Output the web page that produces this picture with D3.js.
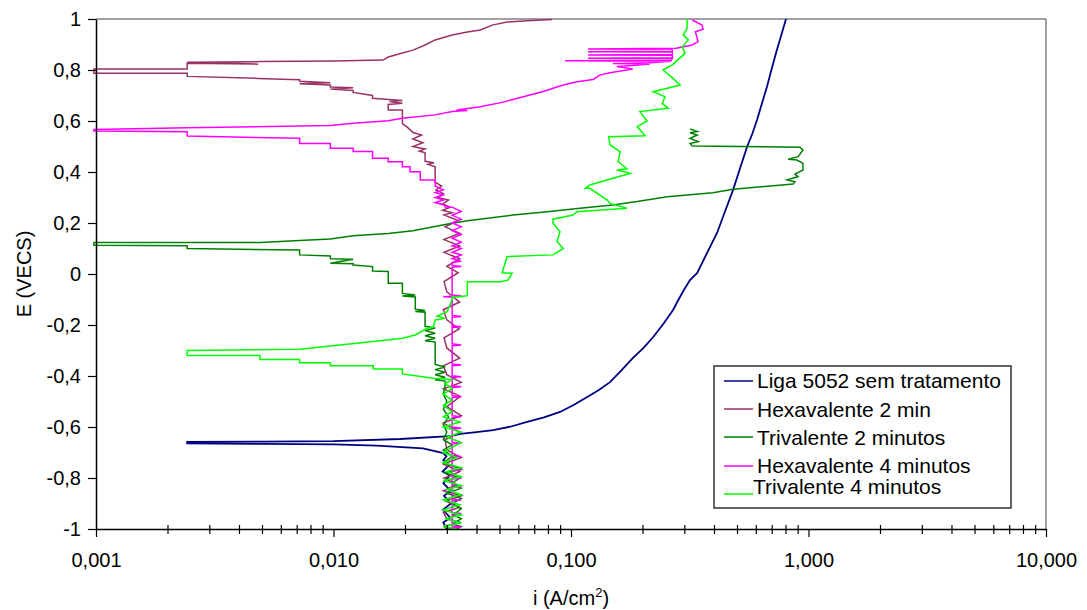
<!DOCTYPE html>
<html>
<head>
<meta charset="utf-8">
<script src="https://cdn.jsdelivr.net/npm/d3@7"></script>
<style>
  body { margin: 0; background: #fff; }
  svg { font-family: "Liberation Sans", Arial, sans-serif; }
</style>
</head>
<body>
<svg id="chart" width="1087" height="610"></svg>
<script>
// Polarization curves, [i (A/cm2), E (VECS)]
const ligaSemTratamento = [
  [0.0300,-1.000],[0.0290,-0.975],[0.0310,-0.955],[0.0289,-0.925],[0.0312,-0.900],[0.0292,-0.870],
  [0.0311,-0.850],[0.0290,-0.820],[0.0309,-0.790],[0.0288,-0.775],[0.0306,-0.750],[0.0290,-0.730],
  [0.0299,-0.715],[0.0290,-0.702],[0.0238,-0.684],[0.0152,-0.673],[0.0100,-0.668],[0.0050,-0.666],
  [0.00242,-0.664],[0.00242,-0.658],[0.0050,-0.657],[0.0100,-0.655],[0.0191,-0.647],[0.0310,-0.636],
  [0.0342,-0.627],[0.0400,-0.620],[0.0470,-0.612],[0.0560,-0.598],[0.0653,-0.580],[0.0770,-0.562],
  [0.0899,-0.541],[0.103,-0.513],[0.117,-0.482],[0.131,-0.455],[0.146,-0.424],[0.163,-0.378],
  [0.182,-0.330],[0.202,-0.290],[0.222,-0.247],[0.245,-0.195],[0.269,-0.141],[0.283,-0.102],
  [0.300,-0.060],[0.317,-0.024],[0.340,0.004],[0.375,0.085],[0.412,0.161],[0.445,0.245],
  [0.481,0.329],[0.515,0.415],[0.551,0.498],[0.580,0.550],[0.607,0.604],[0.637,0.670],
  [0.668,0.733],[0.700,0.805],[0.736,0.878],[0.770,0.940],[0.804,1.000]
];

const hexavalente2min = [
  [0.0315,-1.000],[0.0290,-0.990],[0.0345,-0.975],[0.0300,-0.960],[0.0290,-0.935],[0.0340,-0.915],
  [0.0295,-0.890],[0.0345,-0.870],[0.0290,-0.850],[0.0330,-0.825],[0.0292,-0.800],[0.0340,-0.775],
  [0.0290,-0.745],[0.0345,-0.720],[0.0300,-0.690],[0.0295,-0.650],[0.0340,-0.620],[0.0290,-0.585],
  [0.0345,-0.555],[0.0300,-0.520],[0.0342,-0.480],[0.0290,-0.450],[0.0345,-0.425],[0.0300,-0.395],
  [0.0290,-0.360],[0.0340,-0.330],[0.0300,-0.290],[0.0292,-0.250],[0.0338,-0.215],[0.0300,-0.180],
  [0.0290,-0.140],[0.0340,-0.110],[0.0300,-0.070],[0.0292,-0.030],[0.0335,0.005],[0.0300,0.030],
  [0.0340,0.060],[0.0292,0.085],[0.0340,0.110],[0.0292,0.135],[0.0340,0.160],[0.0295,0.185],
  [0.0335,0.210],[0.0292,0.232],[0.0316,0.240],[0.0288,0.250],[0.0310,0.262],[0.0288,0.275],
  [0.0305,0.290],[0.0275,0.300],[0.0290,0.315],[0.0270,0.330],[0.0285,0.345],[0.0268,0.360],
  [0.0268,0.420],[0.0250,0.430],[0.0265,0.436],[0.0243,0.442],[0.0243,0.475],[0.0230,0.482],
  [0.0243,0.490],[0.0216,0.500],[0.0238,0.515],[0.0216,0.530],[0.0235,0.545],[0.0216,0.555],
  [0.0205,0.575],[0.0195,0.590],[0.0195,0.643],[0.0170,0.643],[0.0170,0.665],[0.0195,0.670],
  [0.0172,0.676],[0.0195,0.680],[0.0146,0.689],[0.0146,0.700],[0.0121,0.712],[0.0121,0.720],
  [0.0097,0.725],[0.0121,0.730],[0.0097,0.733],[0.0097,0.741],[0.0072,0.746],[0.0097,0.750],
  [0.0072,0.756],[0.0072,0.762],[0.0048,0.767],[0.00242,0.775],[0.00242,0.787],[0.00098,0.787],
  [0.00098,0.804],[0.00242,0.804],[0.00242,0.826],[0.00482,0.823],[0.00242,0.830],[0.0050,0.833],
  [0.0100,0.835],[0.0162,0.839],[0.0170,0.851],[0.0195,0.867],[0.0216,0.878],[0.0243,0.898],
  [0.0268,0.918],[0.0316,0.937],[0.0366,0.949],[0.0415,0.957],[0.0466,0.976],[0.0538,0.988],
  [0.0653,0.993],[0.0832,0.998]
];

const trivalente2min = [
  [0.0330,-1.000],[0.0345,-0.990],[0.0316,-0.980],[0.0345,-0.960],[0.0320,-0.945],[0.0345,-0.920],
  [0.0316,-0.900],[0.0345,-0.880],[0.0300,-0.860],[0.0345,-0.840],[0.0316,-0.820],[0.0340,-0.800],
  [0.0295,-0.780],[0.0345,-0.765],[0.0290,-0.740],[0.0316,-0.715],[0.0290,-0.690],[0.0316,-0.670],
  [0.0290,-0.650],[0.0300,-0.620],[0.0290,-0.590],[0.0305,-0.560],[0.0290,-0.530],[0.0300,-0.500],
  [0.0290,-0.470],[0.0295,-0.440],[0.0295,-0.420],[0.0268,-0.415],[0.0295,-0.405],[0.0268,-0.395],
  [0.0295,-0.385],[0.0268,-0.375],[0.0295,-0.365],[0.0268,-0.355],[0.0268,-0.267],[0.0243,-0.262],
  [0.0268,-0.252],[0.0243,-0.242],[0.0268,-0.232],[0.0243,-0.222],[0.0268,-0.212],[0.0243,-0.205],
  [0.0243,-0.150],[0.0221,-0.147],[0.0243,-0.143],[0.0221,-0.138],[0.0221,-0.090],[0.0195,-0.086],
  [0.0221,-0.082],[0.0195,-0.076],[0.0195,-0.036],[0.0170,-0.036],[0.0170,0.010],[0.0146,0.012],
  [0.0146,0.029],[0.0121,0.035],[0.0121,0.040],[0.0097,0.042],[0.0121,0.058],[0.0097,0.060],
  [0.0097,0.071],[0.0072,0.075],[0.0072,0.094],[0.00242,0.100],[0.00242,0.111],[0.00098,0.113],
  [0.00098,0.124],[0.00491,0.124],[0.0072,0.131],[0.0097,0.137],[0.0121,0.150],[0.0170,0.159],
  [0.0216,0.170],[0.0288,0.192],[0.0316,0.199],[0.0366,0.209],[0.0570,0.231],[0.0793,0.244],
  [0.109,0.258],[0.150,0.271],[0.190,0.284],[0.254,0.303],[0.396,0.319],[0.481,0.332],
  [0.861,0.353],[0.877,0.362],[0.813,0.369],[0.904,0.382],[0.877,0.392],[0.948,0.408],
  [0.948,0.434],[0.895,0.447],[0.821,0.450],[0.904,0.460],[0.948,0.486],[0.920,0.497],
  [0.324,0.502],[0.317,0.512],[0.343,0.519],[0.317,0.532],[0.340,0.545],[0.317,0.554],
  [0.340,0.559],[0.317,0.569]
];

const hexavalente4min = [
  [0.0316,-1.000],[0.0316,-0.995],[0.0345,-0.991],[0.0316,-0.988],[0.0316,-0.942],[0.0345,-0.939],
  [0.0316,-0.935],[0.0316,-0.889],[0.0345,-0.886],[0.0316,-0.882],[0.0316,-0.837],[0.0345,-0.834],
  [0.0316,-0.830],[0.0316,-0.804],[0.0345,-0.801],[0.0316,-0.797],[0.0316,-0.772],[0.0345,-0.769],
  [0.0316,-0.765],[0.0316,-0.719],[0.0345,-0.716],[0.0316,-0.712],[0.0316,-0.667],[0.0345,-0.664],
  [0.0316,-0.660],[0.0316,-0.608],[0.0345,-0.605],[0.0316,-0.600],[0.0316,-0.563],[0.0345,-0.560],
  [0.0316,-0.556],[0.0316,-0.484],[0.0345,-0.481],[0.0316,-0.477],[0.0316,-0.445],[0.0345,-0.442],
  [0.0316,-0.438],[0.0316,-0.406],[0.0345,-0.403],[0.0316,-0.399],[0.0316,-0.360],[0.0345,-0.357],
  [0.0316,-0.353],[0.0316,-0.281],[0.0345,-0.278],[0.0316,-0.274],[0.0316,-0.210],[0.0345,-0.207],
  [0.0316,-0.203],[0.0316,-0.170],[0.0345,-0.167],[0.0316,-0.163],[0.0316,-0.092],[0.0290,-0.089],
  [0.0345,-0.086],[0.0316,-0.082],[0.0316,0.026],[0.0345,0.029],[0.0316,0.033],[0.0316,0.045],
  [0.0345,0.050],[0.0316,0.060],[0.0345,0.075],[0.0316,0.085],[0.0345,0.100],[0.0316,0.110],
  [0.0345,0.125],[0.0316,0.140],[0.0345,0.155],[0.0316,0.170],[0.0345,0.185],[0.0316,0.200],
  [0.0345,0.215],[0.0316,0.230],[0.0345,0.245],[0.0316,0.262],[0.0295,0.263],[0.0295,0.270],
  [0.0268,0.280],[0.0290,0.290],[0.0268,0.300],[0.0290,0.310],[0.0268,0.320],[0.0290,0.330],
  [0.0268,0.345],[0.0268,0.369],[0.0232,0.369],[0.0232,0.401],[0.0210,0.401],[0.0210,0.421],
  [0.0195,0.421],[0.0195,0.440],[0.0170,0.440],[0.0170,0.454],[0.0146,0.454],[0.0146,0.480],
  [0.0121,0.480],[0.0121,0.493],[0.0097,0.493],[0.0097,0.512],[0.0072,0.512],[0.0072,0.532],
  [0.00242,0.541],[0.00242,0.558],[0.00098,0.561],[0.00098,0.567],[0.00242,0.574],[0.0097,0.582],
  [0.0121,0.591],[0.0170,0.601],[0.0195,0.611],[0.0268,0.624],[0.0316,0.637],[0.0366,0.641],
  [0.0330,0.643],[0.0415,0.656],[0.0513,0.673],[0.0630,0.695],[0.0757,0.715],[0.0928,0.741],
  [0.106,0.754],[0.124,0.763],[0.132,0.780],[0.146,0.789],[0.182,0.804],[0.156,0.814],
  [0.182,0.818],[0.215,0.824],[0.150,0.825],[0.215,0.828],[0.264,0.834],[0.0944,0.836],
  [0.264,0.838],[0.267,0.845],[0.118,0.846],[0.267,0.848],[0.267,0.858],[0.118,0.859],
  [0.267,0.861],[0.267,0.871],[0.118,0.872],[0.267,0.874],[0.267,0.881],[0.118,0.882],
  [0.277,0.885],[0.324,0.898],[0.343,0.911],[0.334,0.950],[0.360,0.960],[0.356,0.976],[0.324,0.996]
];

const trivalente4min = [
  [0.0330,-1.000],[0.0290,-0.990],[0.0345,-0.975],[0.0295,-0.960],[0.0345,-0.945],[0.0290,-0.925],
  [0.0340,-0.905],[0.0290,-0.885],[0.0345,-0.865],[0.0300,-0.845],[0.0345,-0.830],[0.0290,-0.810],
  [0.0345,-0.795],[0.0300,-0.775],[0.0345,-0.760],[0.0290,-0.740],[0.0330,-0.720],[0.0290,-0.700],
  [0.0316,-0.680],[0.0345,-0.660],[0.0300,-0.640],[0.0345,-0.620],[0.0290,-0.600],[0.0340,-0.580],
  [0.0290,-0.560],[0.0316,-0.540],[0.0290,-0.515],[0.0316,-0.495],[0.0290,-0.470],[0.0316,-0.450],
  [0.0295,-0.430],[0.0316,-0.415],[0.0295,-0.412],[0.0263,-0.409],[0.0195,-0.392],[0.0195,-0.373],
  [0.0147,-0.373],[0.0147,-0.360],[0.0097,-0.360],[0.0097,-0.348],[0.0072,-0.348],[0.0072,-0.335],
  [0.0049,-0.335],[0.0049,-0.320],[0.00242,-0.320],[0.00242,-0.300],[0.0072,-0.295],[0.0097,-0.282],
  [0.0147,-0.265],[0.0195,-0.252],[0.0221,-0.239],[0.0248,-0.213],[0.0263,-0.209],[0.0268,-0.180],
  [0.0295,-0.174],[0.0273,-0.165],[0.0301,-0.148],[0.0316,-0.100],[0.0316,-0.089],[0.0342,-0.089],
  [0.0366,-0.085],[0.0366,-0.030],[0.0504,-0.030],[0.0543,-0.024],[0.0565,0.003],[0.0513,0.005],
  [0.0538,0.068],[0.0840,0.075],[0.0928,0.100],[0.0873,0.127],[0.0899,0.166],[0.0840,0.199],
  [0.0840,0.215],[0.102,0.231],[0.106,0.244],[0.172,0.258],[0.146,0.277],[0.142,0.290],
  [0.120,0.336],[0.115,0.336],[0.120,0.349],[0.178,0.395],[0.156,0.408],[0.172,0.413],
  [0.158,0.440],[0.161,0.480],[0.146,0.506],[0.144,0.538],[0.205,0.542],[0.190,0.578],
  [0.209,0.600],[0.195,0.637],[0.257,0.650],[0.242,0.669],[0.249,0.695],[0.222,0.715],
  [0.288,0.741],[0.269,0.767],[0.244,0.800],[0.267,0.820],[0.302,0.865],[0.294,0.891],
  [0.312,0.918],[0.297,0.937],[0.308,0.963],[0.308,1.000]
];

const seriesNames = ['Liga 5052 sem tratamento', 'Hexavalente 2 min', 'Trivalente 2 minutos',
  'Hexavalente 4 minutos', 'Trivalente 4 minutos'];
const seriesData = [ligaSemTratamento, hexavalente2min, trivalente2min, hexavalente4min, trivalente4min];
const seriesColors = ['#000080', '#993366', '#008000', '#FF00FF', '#00FF00'];

const xTickValues = [0.001, 0.01, 0.1, 1, 10];
const xTickLabels = ['0,001', '0,010', '0,100', '1,000', '10,000'];
const yTickValues = [-1, -0.8, -0.6, -0.4, -0.2, 0, 0.2, 0.4, 0.6, 0.8, 1];
const yTickLabels = ['-1', '-0,8', '-0,6', '-0,4', '-0,2', '0', '0,2', '0,4', '0,6', '0,8', '1'];

const MARGIN = { left: 96, right: 41, top: 19, bottom: 81 };
const WIDTH = 1087 - MARGIN.left - MARGIN.right;
const HEIGHT = 610 - MARGIN.top - MARGIN.bottom;

const svg = d3.select('#chart');
const g = svg.append('g').attr('transform', `translate(${MARGIN.left},${MARGIN.top})`);

const x = d3.scaleLog().domain([0.001, 10]).range([0, WIDTH]);
const y = d3.scaleLinear().domain([-1, 1]).range([HEIGHT, 0]);

// grey frame on top and right
g.append('line').attr('x1', 0).attr('x2', WIDTH).attr('y1', 0).attr('y2', 0)
  .attr('stroke', '#808080').attr('stroke-width', 1.5);
g.append('line').attr('x1', WIDTH).attr('x2', WIDTH).attr('y1', 0).attr('y2', HEIGHT)
  .attr('stroke', '#808080').attr('stroke-width', 1.5);

// curves
const line = d3.line().x(d => x(d[0])).y(d => y(d[1]));
seriesData.forEach((data, k) => {
  g.append('path')
    .datum(data)
    .attr('fill', 'none')
    .attr('stroke', seriesColors[k])
    .attr('stroke-width', k === 0 ? 1.8 : 1.5)
    .attr('d', line);
});

// x axis: major ticks below, minor ticks crossing
const minorTicks = x.ticks().filter(v => !xTickValues.some(m => Math.abs(m - v) / m < 1e-6));
const xMinor = g.append('g').attr('transform', `translate(0,${HEIGHT})`)
  .call(d3.axisBottom(x).tickValues(minorTicks).tickSize(5).tickSizeOuter(0).tickFormat(''));
xMinor.select('.domain').remove();
xMinor.selectAll('.tick line').attr('y1', -4).attr('stroke', '#000').attr('stroke-width', 1.2);

const xAxis = g.append('g').attr('transform', `translate(0,${HEIGHT})`)
  .call(d3.axisBottom(x).tickValues(xTickValues).tickSize(8).tickSizeOuter(0)
    .tickFormat((d, i) => xTickLabels[i]));
xAxis.select('.domain').attr('stroke', '#000').attr('stroke-width', 1.5);
xAxis.selectAll('.tick line').attr('stroke', '#000').attr('stroke-width', 1.2);
xAxis.selectAll('.tick text').attr('font-size', 20).attr('fill', '#000')
  .attr('font-family', 'Liberation Sans, Arial, sans-serif').attr('dy', '1.35em');

// y axis
const yAxis = g.append('g')
  .call(d3.axisLeft(y).tickValues(yTickValues).tickSize(8).tickSizeOuter(0)
    .tickFormat((d, i) => yTickLabels[i]));
yAxis.select('.domain').attr('stroke', '#000').attr('stroke-width', 1.5);
yAxis.selectAll('.tick line').attr('stroke', '#000').attr('stroke-width', 1.2);
yAxis.selectAll('.tick text').attr('font-size', 20).attr('fill', '#000')
  .attr('font-family', 'Liberation Sans, Arial, sans-serif').attr('x', -15);

// axis titles
svg.append('text')
  .attr('transform', `translate(24,${MARGIN.top + y(0)}) rotate(-90)`)
  .attr('text-anchor', 'middle')
  .attr('dy', '0.35em')
  .attr('font-size', 20)
  .text('E (VECS)');

const xTitle = svg.append('text')
  .attr('x', MARGIN.left + x(0.1))
  .attr('y', 605)
  .attr('text-anchor', 'middle')
  .attr('font-size', 20);
xTitle.append('tspan').text('i (A/cm');
xTitle.append('tspan').attr('font-size', 13).attr('dy', -8).text('2');
xTitle.append('tspan').attr('dy', 8).text(')');

// legend
const legend = svg.append('g').attr('transform', 'translate(714,366)');
legend.append('rect').attr('width', 297).attr('height', 142)
  .attr('fill', '#fff').attr('stroke', '#333').attr('stroke-width', 1.5);
const rowLine = [15, 43, 71, 100, 128];
const rowText = [22, 51, 79, 107, 128];
const rowTextX = [43, 43, 43, 43, 39];
seriesNames.forEach((name, k) => {
  legend.append('line')
    .attr('x1', 10).attr('x2', 39)
    .attr('y1', rowLine[k]).attr('y2', rowLine[k])
    .attr('stroke', seriesColors[k]).attr('stroke-width', 1.5);
  legend.append('text')
    .attr('x', rowTextX[k]).attr('y', rowText[k])
    .attr('font-size', 21)
    .text(name);
});
</script>
</body>
</html>
